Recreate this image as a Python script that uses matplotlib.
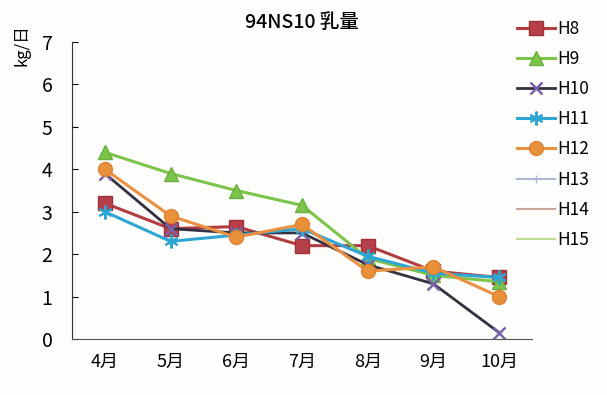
import numpy as np
import matplotlib.pyplot as plt

plt.rcParams['font.family'] = ['Noto Sans CJK JP', 'DejaVu Sans']

months = ['4月', '5月', '6月', '7月', '8月', '9月', '10月']
h8 = [3.2, 2.6, 2.65, 2.2, 2.2, 1.6, 1.45]
h9 = [4.4, 3.9, 3.5, 3.15, 1.9, 1.5, 1.35]
h10 = [3.9, 2.6, 2.5, 2.5, 1.75, 1.3, 0.15]
h11 = [3.0, 2.3, 2.45, 2.6, 1.95, 1.55, 1.45]
h12 = [4.0, 2.9, 2.4, 2.7, 1.6, 1.7, 1.0]
h13 = []
h14 = []
h15 = []

x = np.arange(len(months))

fig = plt.figure(figsize=(6.07, 3.95), dpi=100)
fig.patch.set_facecolor('#fdfdfb')
ax = fig.add_axes([72 / 607, 56 / 395, 460 / 607, 297 / 395])
ax.set_facecolor('#fdfdfb')

ax.plot(x, h8, color='#b23c40', lw=2.2, marker='s', ms=10, mfc='#b5404a', mec='#a03038', label='H8')
ax.plot(x, h9, color='#7cc44a', lw=2.2, marker='^', ms=10, mfc='#7cc44a', mec='#6ab03c', label='H9')
ax.plot(x, h10, color='#333040', lw=2.0, marker='x', ms=9, mew=1.8, mec='#7a62a8', label='H10')
ax.plot(x, h11, color='#2ea6d4', lw=2.2, marker=(6, 2, 0), ms=10, mew=1.5, mec='#2ea6d4', label='H11')
ax.plot(x, h12, color='#ea9040', lw=2.2, marker='o', ms=10, mfc='#e8913a', mec='#e08030', label='H12')
ax.plot(x[:len(h13)], h13, color='#a8b8d8', lw=1.5, marker='|', ms=6, label='H13')
ax.plot(x[:len(h14)], h14, color='#c8a898', lw=1.5, label='H14')
ax.plot(x[:len(h15)], h15, color='#b8dc90', lw=1.5, label='H15')

ax.set_xlim(-0.5, 6.5)
ax.set_ylim(0, 7)
ax.set_xticks(x)
ax.set_xticklabels(months)
ax.set_yticks(range(8))
ax.tick_params(axis='y', direction='in', length=4, labelsize=14, pad=14)
ax.tick_params(axis='x', length=0, labelsize=13, pad=10)
for s in ['top', 'right']:
    ax.spines[s].set_visible(False)
ax.spines['left'].set_color('#333333')
ax.spines['bottom'].set_color('#555555')

ax.set_title('94NS10 乳量', fontsize=14, fontweight='medium', pad=10, x=0.5)
fig.text(22 / 607, 1 - 45 / 395, 'kg/日', rotation=90, fontsize=12, ha='center', va='center')

leg = ax.legend(loc='upper left', bbox_to_anchor=(0.952, 1.098), frameon=False, fontsize=12.5,
                handlelength=2.2, labelspacing=0.7, handletextpad=0.1, borderaxespad=0.0)

fig.savefig('out.png', dpi=100, facecolor=fig.get_facecolor())
